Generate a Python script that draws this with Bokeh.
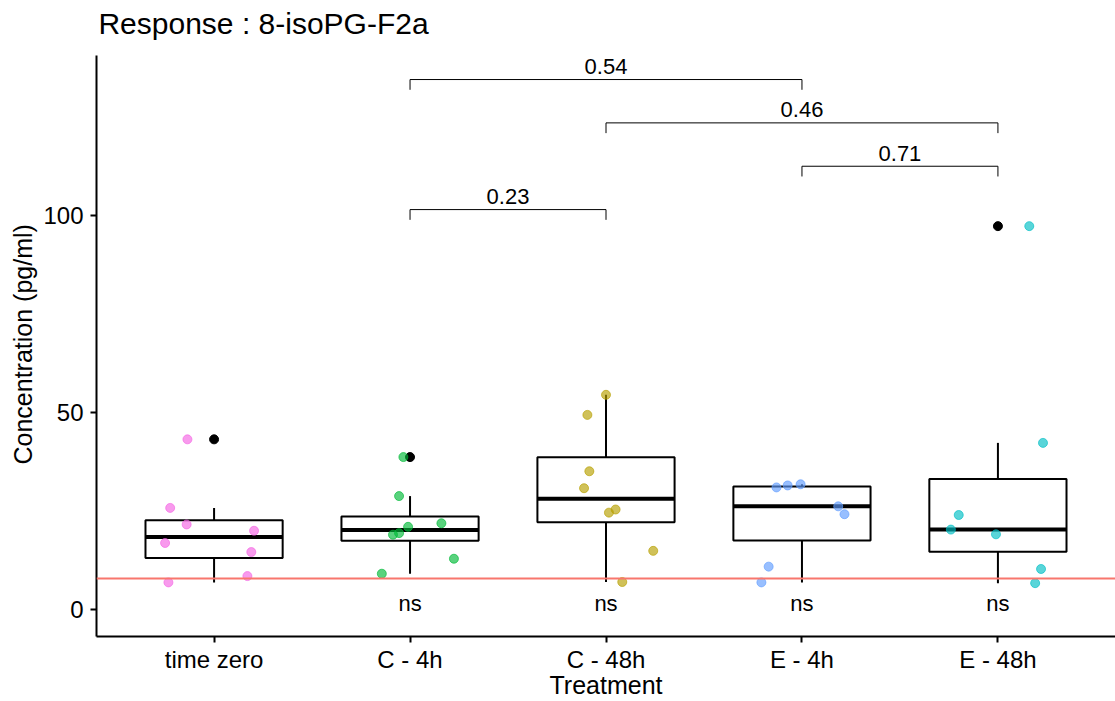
import numpy as np
from bokeh.plotting import figure
from bokeh.models import Range1d, FixedTicker, Span, Label, Title
from bokeh.core.properties import value
from bokeh.embed import file_html
from bokeh.resources import INLINE

# ---------------- data ----------------
categories = ["time zero", "C - 4h", "C - 48h", "E - 4h", "E - 48h"]
colors = ["#F564E3", "#00BA38", "#B79F00", "#619CFF", "#00BFC4"]

time_zero = [43.3, 25.9, 21.7, 20.1, 17.0, 14.7, 8.6, 7.0]
c_4h = [38.8, 28.9, 22.0, 21.1, 19.5, 19.1, 13.0, 9.2]
c_48h = [54.6, 49.5, 35.2, 30.9, 25.5, 24.7, 15.0, 7.1]
e_4h = [31.1, 31.6, 31.9, 26.3, 24.3, 11.0, 7.0]
e_48h = [97.4, 42.4, 24.1, 20.4, 19.2, 10.4, 6.8]
groups = [time_zero, c_4h, c_48h, e_4h, e_48h]

# horizontal jitter of each point (category units)
jit_time_zero = [-0.136, -0.224, -0.14, 0.204, -0.25, 0.19, 0.17, -0.233]
jit_c_4h = [-0.034, -0.056, 0.16, -0.01, -0.056, -0.087, 0.224, -0.144]
jit_c_48h = [0.0, -0.095, -0.085, -0.112, 0.049, 0.015, 0.241, 0.083]
jit_e_4h = [-0.13, -0.073, -0.007, 0.185, 0.217, -0.17, -0.207]
jit_e_48h = [0.16, 0.23, -0.2, -0.24, -0.01, 0.22, 0.19]
jitters = [jit_time_zero, jit_c_4h, jit_c_48h, jit_e_4h, jit_e_48h]

threshold = 8.0

comp_from = [2, 2, 3, 4]
comp_to = [3, 4, 5, 5]
comp_p = ["0.23", "0.54", "0.46", "0.71"]
comp_y = [101.6, 134.6, 123.6, 112.6]
tip = 2.6

ns_labels = ["ns", "ns", "ns", "ns"]
ns_x = [2, 3, 4, 5]

title_text = "Response : 8-isoPG-F2a"
x_title = "Treatment"
y_title = "Concentration (pg/ml)"

FONT = "Liberation Sans"

# ---------------- geometry ----------------
H, W = 701, 1115
PANEL_TOP, BORDER_BOTTOM = 55, 65        # panel (axes) box in pixels
Y0, Y1 = -6.73, 140.7                    # value range shown in the panel
ppu = (H - PANEL_TOP - BORDER_BOTTOM) / (Y1 - Y0)
Y_TOP = Y1 + PANEL_TOP / ppu             # frame extends to top of canvas (room for the title)

p = figure(width=W, height=H,
           x_range=Range1d(0.4, 5.6), y_range=Range1d(Y0, Y_TOP),
           output_backend="svg", toolbar_location=None,
           min_border_left=96, min_border_right=0,
           min_border_top=0, min_border_bottom=BORDER_BOTTOM)

p.xgrid.visible = False
p.ygrid.visible = False
p.outline_line_color = None
p.background_fill_color = "white"
p.border_fill_color = "white"

for ax in (p.xaxis[0], p.yaxis[0]):
    ax.axis_line_color = "black"
    ax.axis_line_width = 2
    ax.major_tick_line_color = "black"
    ax.major_tick_line_width = 2
    ax.major_tick_out = 6
    ax.major_tick_in = 0
    ax.minor_tick_line_color = None
    ax.major_label_text_font = FONT
    ax.major_label_text_font_size = "24px"
    ax.major_label_text_color = "black"
    ax.axis_label_text_font = FONT
    ax.axis_label_text_font_size = "25px"
    ax.axis_label_text_font_style = "normal"
    ax.axis_label_text_color = "black"

p.xaxis.ticker = FixedTicker(ticks=[1, 2, 3, 4, 5])
p.xaxis.major_label_overrides = {i + 1: c for i, c in enumerate(categories)}
p.xaxis.axis_label = x_title
p.xaxis.major_label_standoff = 3
p.xaxis.axis_label_standoff = -5

p.yaxis.ticker = FixedTicker(ticks=[0, 50, 100])
p.yaxis.bounds = (Y0, Y1)
p.yaxis.major_label_standoff = 7

# y-axis title, centred on the value panel (not the whole frame)
p.add_layout(Title(text=y_title, align="left", offset=172, vertical_align="bottom",
                   standoff=8, text_font=FONT, text_font_size="25px",
                   text_font_style="normal", text_color="black"), "left")

# ---------------- boxplots ----------------
half = 0.35
for i, vals in enumerate(groups):
    x = i + 1
    v = np.array(vals, dtype=float)
    q1, med, q3 = np.percentile(v, [25, 50, 75])
    iqr = q3 - q1
    lo_f, hi_f = q1 - 1.5 * iqr, q3 + 1.5 * iqr
    inside = v[(v >= lo_f) & (v <= hi_f)]
    lw, uw = inside.min(), inside.max()
    outl = v[(v < lo_f) | (v > hi_f)]
    p.segment(x0=[x, x], y0=[q3, q1], x1=[x, x], y1=[uw, lw],
              line_color="black", line_width=2)
    p.quad(left=[x - half], right=[x + half], bottom=[q1], top=[q3],
           fill_color="white", line_color="black", line_width=2)
    p.segment(x0=[x - half], y0=[med], x1=[x + half], y1=[med],
              line_color="black", line_width=4)
    if len(outl):
        p.scatter(x=[x] * len(outl), y=list(outl), size=9,
                  fill_color="black", line_color="black")

# threshold line
p.add_layout(Span(location=threshold, dimension="width",
                  line_color="#F8766D", line_width=2))

# jittered points
for i, (vals, jit) in enumerate(zip(groups, jitters)):
    xs = [i + 1 + j for j in jit]
    p.scatter(x=xs, y=vals, size=9, fill_color=colors[i], line_color=colors[i],
              fill_alpha=0.65, line_alpha=0.65)

# ---------------- comparison brackets ----------------
xs_b, ys_b = [], []
for a, b, y in zip(comp_from, comp_to, comp_y):
    xs_b.append([a, a, b, b])
    ys_b.append([y - tip, y, y, y - tip])
p.multi_line(xs=xs_b, ys=ys_b, line_color="black", line_width=1)

p.text(x=[(a + b) / 2 for a, b in zip(comp_from, comp_to)], y=comp_y, text=comp_p,
       y_offset=-13, text_align="center", text_baseline="middle",
       text_font=value(FONT), text_font_size="22px", text_color="black")

p.text(x=ns_x, y=[1.7] * len(ns_x), text=ns_labels,
       text_align="center", text_baseline="middle",
       text_font=value(FONT), text_font_size="22px", text_color="black")

# ---------------- title ----------------
p.add_layout(Label(x=0.41, y=Y1 + 32 / ppu, text=title_text,
                   text_font=FONT, text_font_size="30px", text_color="black",
                   text_align="left", text_baseline="middle"))

open("out.html", "w").write(file_html(p, INLINE))
